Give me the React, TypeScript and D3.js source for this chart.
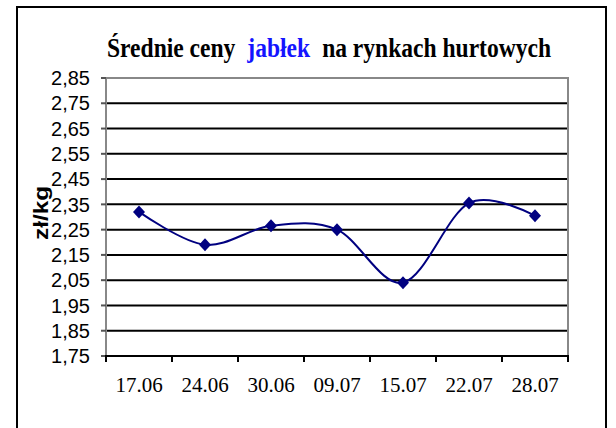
import React, { useRef, useEffect } from 'react'
import * as d3 from 'd3'

// data
const dates = ['17.06', '24.06', '30.06', '09.07', '15.07', '22.07', '28.07']
const prices = [2.32, 2.19, 2.265, 2.25, 2.04, 2.355, 2.305]
const yTicks = [1.75, 1.85, 1.95, 2.05, 2.15, 2.25, 2.35, 2.45, 2.55, 2.65, 2.75, 2.85]
const titleParts = ['Średnie ceny', 'jabłek', 'na rynkach hurtowych']
const titleColors = ['black', '#1414ff', 'black']

const W = 616
const H = 428
const SANS = 'Liberation Sans, Arial, sans-serif'
const SERIF = 'Liberation Serif, Times New Roman, serif'

export default function App() {
  const ref = useRef<SVGSVGElement>(null)

  useEffect(() => {
    if (!ref.current) return
    const svg = d3.select(ref.current)
    svg.selectAll('*').remove()

    const plot = { left: 106, right: 568, top: 78, bottom: 356 }

    // outer frame (bottom edge runs off the page)
    svg
      .append('rect')
      .attr('x', 17)
      .attr('y', 7)
      .attr('width', 589)
      .attr('height', 440)
      .attr('fill', 'white')
      .attr('stroke', 'black')
      .attr('stroke-width', 2)

    const x = d3
      .scaleBand()
      .domain(dates)
      .range([plot.left, plot.right])
      .padding(0)
    const y = d3
      .scaleLinear()
      .domain([1.75, 2.85])
      .range([plot.bottom, plot.top])

    // horizontal grid lines
    svg
      .append('g')
      .selectAll('line')
      .data(yTicks.slice(1, -1))
      .join('line')
      .attr('x1', plot.left)
      .attr('x2', plot.right)
      .attr('y1', d => y(d))
      .attr('y2', d => y(d))
      .attr('stroke', 'black')
      .attr('stroke-width', 2)

    // plot border: top + right gray
    svg
      .append('path')
      .attr('d', `M${plot.left},${y(2.85)}H${plot.right}V${plot.bottom}`)
      .attr('fill', 'none')
      .attr('stroke', '#888')
      .attr('stroke-width', 2)

    // y axis
    const yAxis = svg.append('g')
    yAxis
      .append('line')
      .attr('x1', plot.left)
      .attr('x2', plot.left)
      .attr('y1', plot.top)
      .attr('y2', plot.bottom)
      .attr('stroke', '#888')
      .attr('stroke-width', 2)
    yAxis
      .selectAll('line.tick')
      .data(yTicks)
      .join('line')
      .attr('class', 'tick')
      .attr('x1', plot.left - 5)
      .attr('x2', plot.left)
      .attr('y1', d => y(d))
      .attr('y2', d => y(d))
      .attr('stroke', '#555')
      .attr('stroke-width', 2)
    yAxis
      .selectAll('text')
      .data(yTicks)
      .join('text')
      .attr('x', 90)
      .attr('y', d => y(d))
      .attr('dy', '0.36em')
      .attr('text-anchor', 'end')
      .attr('font-family', SANS)
      .attr('font-size', 20)
      .text(d => d3.format('.2f')(d).replace('.', ','))

    // x axis
    const xAxis = svg.append('g')
    xAxis
      .append('line')
      .attr('x1', plot.left - 1)
      .attr('x2', plot.right + 1)
      .attr('y1', plot.bottom)
      .attr('y2', plot.bottom)
      .attr('stroke', 'black')
      .attr('stroke-width', 2)
    const bounds = dates.map(d => x(d) as number).concat([plot.right])
    xAxis
      .selectAll('line.tick')
      .data(bounds)
      .join('line')
      .attr('class', 'tick')
      .attr('x1', d => d)
      .attr('x2', d => d)
      .attr('y1', plot.bottom)
      .attr('y2', plot.bottom + 6)
      .attr('stroke', 'black')
      .attr('stroke-width', 2)
    xAxis
      .selectAll('text')
      .data(dates)
      .join('text')
      .attr('x', d => (x(d) as number) + x.bandwidth() / 2)
      .attr('y', 392)
      .attr('text-anchor', 'middle')
      .attr('font-family', SERIF)
      .attr('font-size', 21)
      .text(d => d)

    // axis title
    svg
      .append('text')
      .attr('transform', 'translate(48,213) rotate(-90)')
      .attr('text-anchor', 'middle')
      .attr('textLength', 54)
      .attr('lengthAdjust', 'spacingAndGlyphs')
      .attr('font-family', SANS)
      .attr('font-weight', 'bold')
      .attr('font-size', 21)
      .text('zł/kg')

    // chart title, as three pieces laid side by side, squeezed to the reference width
    const titleG = svg
      .append('g')
      .attr('font-family', SERIF)
      .attr('font-weight', 'bold')
      .attr('font-size', 27)
    const pieces = titleParts.map((t, i) =>
      titleG.append('text').attr('y', 57).attr('fill', titleColors[i]).text(t)
    )
    const widths = pieces.map(p => (p.node() as SVGTextElement).getComputedTextLength())
    const gap = 12
    const k = (444 - gap * (widths.length - 1)) / d3.sum(widths)
    let cx = 107
    pieces.forEach((p, i) => {
      p.attr('x', cx)
        .attr('textLength', widths[i] * k)
        .attr('lengthAdjust', 'spacingAndGlyphs')
      cx += widths[i] * k + gap
    })

    // smoothed series line
    const pts = dates.map((d, i) => [
      (x(d) as number) + x.bandwidth() / 2,
      y(prices[i])
    ]) as [number, number][]
    const line = d3.line().curve(d3.curveCardinal.tension(0))
    svg
      .append('path')
      .attr('d', line(pts))
      .attr('fill', 'none')
      .attr('stroke', '#000080')
      .attr('stroke-width', 2)

    // diamond markers
    svg
      .append('g')
      .selectAll('path')
      .data(pts)
      .join('path')
      .attr('transform', d => `translate(${d[0]},${d[1]})`)
      .attr('d', 'M0,-6.5L6,0L0,6.5L-6,0Z')
      .attr('fill', '#000080')
  }, [])

  return (
    <svg
      ref={ref}
      width={W}
      height={H}
      style={{ position: 'absolute', left: 0, top: 0, background: 'white' }}
    />
  )
}
